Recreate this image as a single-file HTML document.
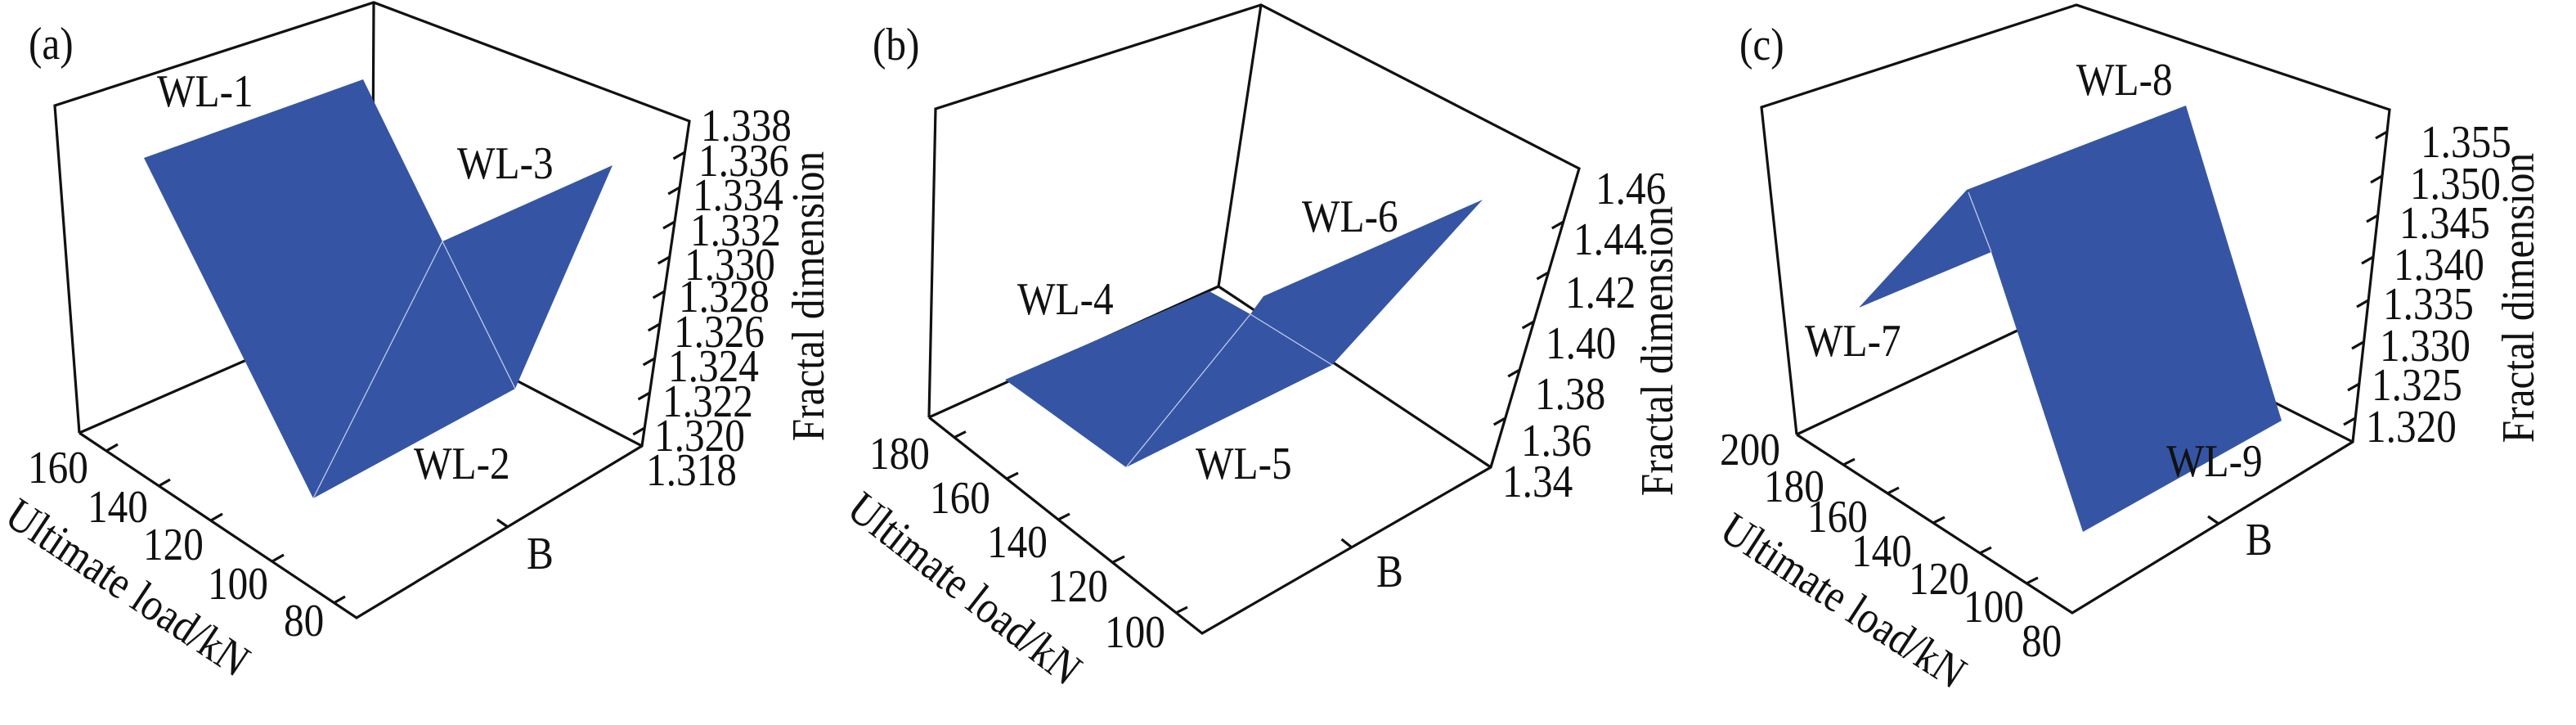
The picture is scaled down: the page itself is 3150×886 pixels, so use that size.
<!DOCTYPE html>
<html><head><meta charset="utf-8"><style>
html,body{margin:0;padding:0;background:#fff;}
svg{display:block}
text{font-family:"Liberation Serif",serif;font-size:56px;fill:#111}
</style></head><body>
<svg width="3150" height="886" viewBox="0 0 3150 886" xmlns="http://www.w3.org/2000/svg">
<g stroke="#111" stroke-width="3.2" fill="none" stroke-linejoin="miter">
<!-- (a) -->
<polyline points="97,529 67,129 457,3 843,148 785,545 436,755 97,529"/>
<line x1="457" y1="3" x2="455" y2="373"/>
<line x1="97" y1="529" x2="455" y2="373"/>
<line x1="785" y1="545" x2="455" y2="373"/>
<path d="M837.5,186 l-14,8 M831.2,229 l-14,8 M825,271 l-14,8 M818.7,314 l-14,8 M812.6,356 l-14,8 M806.7,396 l-14,8 M800.6,438 l-14,8 M794.5,480 l-14,8 M788.2,523 l-14,8"/>
<path d="M130,551 l14,-8 M194,594 l14,-8 M258,636 l14,-8 M333,686 l14,-8 M408,737 l14,-8"/>
<path d="M621,644 l-13,-9"/>
<!-- (b) -->
<polyline points="1136,510 1144,133 1542,6 1931,206 1823,571 1470,774 1136,510"/>
<line x1="1542" y1="6" x2="1490" y2="350"/>
<line x1="1136" y1="510" x2="1490" y2="350"/>
<line x1="1823" y1="571" x2="1490" y2="350"/>
<path d="M1911.8,271 l-14,8 M1893.4,333 l-14,8 M1875.6,393 l-14,8 M1858.2,452 l-14,8 M1840.7,511 l-14,8"/>
<path d="M1167,534.5 l14,-7 M1231,585 l14,-7 M1294,635 l14,-7 M1361,687 l14,-7 M1438,749 l14,-7"/>
<path d="M1653,669 l-12.5,-10"/>
<!-- (c) -->
<polyline points="2197,531 2154,131 2539,6 2922,134 2877,540 2534,749 2197,531"/>
<line x1="2197" y1="531" x2="2539" y2="370"/>
<line x1="2877" y1="540" x2="2539" y2="370"/>
<path d="M2919,161 l-14,8 M2913,215 l-14,8 M2908,263 l-14,8 M2902,314 l-14,8 M2896,367 l-14,8 M2890,418 l-14,8 M2885,469 l-14,8 M2880,511 l-14,8"/>
<path d="M2254,568 l14,-7 M2308,603 l14,-7 M2364,639 l14,-7 M2421,676 l14,-7 M2478,713 l14,-7"/>
<path d="M2713,640 l-13,-9"/>
</g>
<g fill="#3555a4">
<polygon points="176,193 444,97 541,295 749,202 630,475 383,609"/>
<polygon points="1229,464 1479,356 1529,384 1545,362 1813,244 1629,446 1377,571"/>
<polygon points="2273,376 2405,232 2673,129 2790,514 2547,650 2435,308"/>
</g>
<g stroke="#c9d2ee" stroke-width="1.2" fill="none">
<line x1="541" y1="295" x2="383" y2="609"/>
<line x1="541" y1="295" x2="630" y2="475"/>
<line x1="1529" y1="384" x2="1377" y2="571"/>
<line x1="1529" y1="384" x2="1629" y2="446"/>
<line x1="2407" y1="235" x2="2435" y2="308"/>
</g>
<!-- text (a) -->
<text transform="translate(35,72) scale(0.88,1)">(a)</text>
<text transform="translate(192,130) scale(0.88,1)">WL-1</text>
<text transform="translate(559,218) scale(0.88,1)">WL-3</text>
<text transform="translate(506,585) scale(0.88,1)">WL-2</text>
<text transform="translate(644,695) scale(0.88,1)">B</text>
<text transform="translate(34,590) scale(0.88,1)">160</text>
<text transform="translate(107,638) scale(0.88,1)">140</text>
<text transform="translate(175,684) scale(0.88,1)">120</text>
<text transform="translate(254,732) scale(0.88,1)">100</text>
<text transform="translate(347,777) scale(0.88,1)">80</text>
<text transform="translate(3,638) rotate(33.7) scale(0.88,1)">Ultimate load/kN</text>
<text transform="translate(857,172) scale(0.88,1)">1.338</text>
<text transform="translate(854,215) scale(0.88,1)">1.336</text>
<text transform="translate(847,257) scale(0.88,1)">1.334</text>
<text transform="translate(844,300) scale(0.88,1)">1.332</text>
<text transform="translate(837,342) scale(0.88,1)">1.330</text>
<text transform="translate(830,381) scale(0.88,1)">1.328</text>
<text transform="translate(824,424) scale(0.88,1)">1.326</text>
<text transform="translate(817,466) scale(0.88,1)">1.324</text>
<text transform="translate(810,509) scale(0.88,1)">1.322</text>
<text transform="translate(800,551) scale(0.88,1)">1.320</text>
<text transform="translate(790,593) scale(0.88,1)">1.318</text>
<text transform="translate(1007,362) rotate(-90) scale(0.88,1)" text-anchor="middle">Fractal dimension</text>
<!-- text (b) -->
<text transform="translate(1067,73) scale(0.88,1)">(b)</text>
<text transform="translate(1244,384) scale(0.88,1)">WL-4</text>
<text transform="translate(1592,283) scale(0.88,1)">WL-6</text>
<text transform="translate(1462,585) scale(0.88,1)">WL-5</text>
<text transform="translate(1683,717) scale(0.88,1)">B</text>
<text transform="translate(1063,573) scale(0.88,1)">180</text>
<text transform="translate(1137,627) scale(0.88,1)">160</text>
<text transform="translate(1207,681) scale(0.88,1)">140</text>
<text transform="translate(1281,735) scale(0.88,1)">120</text>
<text transform="translate(1351,791) scale(0.88,1)">100</text>
<text transform="translate(1033,628) rotate(38) scale(0.88,1)">Ultimate load/kN</text>
<text transform="translate(1951,249) scale(0.88,1)">1.46</text>
<text transform="translate(1924,311) scale(0.88,1)">1.44</text>
<text transform="translate(1914,376) scale(0.88,1)">1.42</text>
<text transform="translate(1890,438) scale(0.88,1)">1.40</text>
<text transform="translate(1877,500) scale(0.88,1)">1.38</text>
<text transform="translate(1860,557) scale(0.88,1)">1.36</text>
<text transform="translate(1837,607) scale(0.88,1)">1.34</text>
<text transform="translate(2045,429) rotate(-90) scale(0.88,1)" text-anchor="middle">Fractal dimension</text>
<!-- text (c) -->
<text transform="translate(2127,73) scale(0.88,1)">(c)</text>
<text transform="translate(2539,116) scale(0.88,1)">WL-8</text>
<text transform="translate(2207,435) scale(0.88,1)">WL-7</text>
<text transform="translate(2649,582) scale(0.88,1)">WL-9</text>
<text transform="translate(2746,678) scale(0.88,1)">B</text>
<text transform="translate(2103,568) scale(0.88,1)">200</text>
<text transform="translate(2157,613) scale(0.88,1)">180</text>
<text transform="translate(2210,650) scale(0.88,1)">160</text>
<text transform="translate(2264,692) scale(0.88,1)">140</text>
<text transform="translate(2334,726) scale(0.88,1)">120</text>
<text transform="translate(2401,760) scale(0.88,1)">100</text>
<text transform="translate(2472,802) scale(0.88,1)">80</text>
<text transform="translate(2100,656) rotate(33) scale(0.88,1)">Ultimate load/kN</text>
<text transform="translate(2960,192) scale(0.88,1)">1.355</text>
<text transform="translate(2947,243) scale(0.88,1)">1.350</text>
<text transform="translate(2934,291) scale(0.88,1)">1.345</text>
<text transform="translate(2927,342) scale(0.88,1)">1.340</text>
<text transform="translate(2914,390) scale(0.88,1)">1.335</text>
<text transform="translate(2910,441) scale(0.88,1)">1.330</text>
<text transform="translate(2900,489) scale(0.88,1)">1.325</text>
<text transform="translate(2893,540) scale(0.88,1)">1.320</text>
<text transform="translate(3098,364) rotate(-90) scale(0.88,1)" text-anchor="middle">Fractal dimension</text>
</svg>
</body></html>
